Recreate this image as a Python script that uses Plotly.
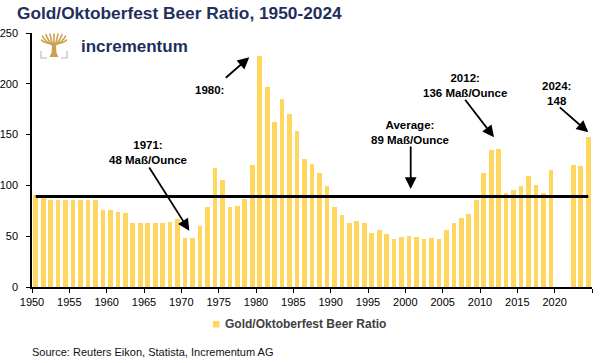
import base64
import plotly.graph_objects as go

# ---------------- data ----------------
years = list(range(1950, 2025))
ratio = [91, 91, 86, 86, 86, 86, 86, 86, 86, 76,
         76, 74, 73, 63, 63, 63, 63, 63, 64, 67,
         48, 48, 60, 79, 117, 105, 79, 80, 87, 120,
         227, 197, 162, 185, 170, 154, 126, 121, 112, 99,
         79, 71, 63, 65, 63, 53, 56, 52, 47, 49,
         50, 49, 47, 48, 47, 56, 63, 68, 72, 86,
         112, 135, 136, 93, 95, 99, 109, 100, 93, 115,
         None, None, 120, 119, 148]
average = 89
tick_years = [1950, 1955, 1960, 1965, 1970, 1975, 1980, 1985, 1990,
              1995, 2000, 2005, 2010, 2015, 2020, 2025]
tick_text = [str(y) for y in tick_years[:-1]] + [""]
series_name = "Gold/Oktoberfest Beer Ratio"

# ---------------- layout geometry ----------------
W, H = 600, 363
L, R, T, B = 32, 8, 33, 76
PW, PH = W - L - R, H - T - B

def pxx(px):
    return (px - L) / PW

def pxy(py):
    return (H - B - py) / PH

BAR = "#FFD75F"
NAVY = "#1E2F5E"

fig = go.Figure()
fig.add_trace(go.Bar(
    x=[y + 0.5 for y in years], y=ratio, width=0.62,
    marker=dict(color=BAR, line=dict(width=0)), name=series_name,
    showlegend=False,
))
fig.add_trace(go.Scatter(
    x=[years[0] + 0.5, years[-1] + 0.5], y=[average, average],
    mode="lines", line=dict(color="black", width=3), showlegend=False,
))

ann = []
font_b = dict(family="Liberation Sans, Arial", size=11.5, color="black")

def text(px, py, t, **kw):
    d = dict(xref="paper", yref="paper", x=pxx(px), y=pxy(py), text=t,
             showarrow=False, xanchor="center", yanchor="middle",
             font=font_b, align="center")
    d.update(kw)
    ann.append(d)

def arrow(sx, sy, tx, ty):
    ann.append(dict(xref="paper", yref="paper", x=pxx(tx), y=pxy(ty),
                    ax=sx - tx, ay=sy - ty, axref="pixel", ayref="pixel",
                    text="", showarrow=True, arrowhead=2, arrowsize=1.3,
                    arrowwidth=1.8, arrowcolor="black", standoff=0,
                    startstandoff=0))

text(209.5, 90, "<b>1980:</b>")
arrow(224.3, 79, 249.3, 57.3)
text(147.5, 152, "<b>1971:<br>48 Maß/Ounce</b>")
arrow(148.3, 166, 189.3, 230.7)
text(410, 132, "<b>Average:<br>89 Maß/Ounce</b>")
arrow(410.7, 145, 410.7, 189)
text(465, 85, "<b>2012:<br>136 Maß/Ounce</b>")
arrow(464, 98.3, 494, 137.3)
text(556.7, 93.7, "<b>2024:<br>148</b>")
arrow(558.3, 106, 588.3, 132.3)

# logo text
text(79, 46.5, "<b>incrementum</b>", xanchor="left",
     font=dict(family="Liberation Sans, Arial", size=17, color=NAVY))
# legend text
text(222.5, 324, "<b>" + series_name + "</b>", xanchor="left",
     font=dict(family="Liberation Sans, Arial", size=12, color="#404040"))
# source
text(29.5, 351.7, "Source: Reuters Eikon, Statista, Incrementum AG", xanchor="left",
     font=dict(family="Liberation Sans, Arial", size=11, color="#111111"))

shapes = [dict(type="rect", xref="paper", yref="paper",
               x0=pxx(213), x1=pxx(219.5), y0=pxy(327.5), y1=pxy(321),
               fillcolor=BAR, line=dict(width=0))]

# logo icon (tree) as inline svg
svg = """<svg xmlns='http://www.w3.org/2000/svg' width='28' height='26' viewBox='0 0 28 26'>
<g stroke='#C9A24B' stroke-width='1.6' fill='none' stroke-linecap='round'>
<path d='M14,14 L14,1'/>
<path d='M14,14 Q11,8 10,1'/><path d='M14,14 Q17,8 18,1'/>
<path d='M13.5,13 Q8,8 6,1.5'/><path d='M14.5,13 Q20,8 22,1.5'/>
<path d='M13,12 Q5,9 2.5,3'/><path d='M15,12 Q23,9 25.5,3'/>
<path d='M12.5,11 Q4,10 1.5,7'/><path d='M15.5,11 Q24,10 26.5,7'/>
</g>
<path d='M12,13 L16,13 L16.5,20 L18.5,24 L9.5,24 L11.5,20 Z' fill='#C9A24B'/>
<path d='M1,18 V25 H7 M27,18 V25 H21' stroke='#CFCFCF' stroke-width='1.6' fill='none'/>
</svg>"""
src = "data:image/svg+xml;base64," + base64.b64encode(svg.encode()).decode()
images = [dict(source=src, xref="paper", yref="paper", x=pxx(40), y=pxy(33),
               sizex=28 / PW, sizey=26 / PH, xanchor="left", yanchor="top",
               sizing="stretch", layer="above")]

fig.update_layout(
    width=W, height=H, margin=dict(l=L, r=R, t=T, b=B, pad=0, autoexpand=False),
    paper_bgcolor="white", plot_bgcolor="white",
    font=dict(family="Liberation Sans, Arial", size=11, color="black"),
    title=dict(text="<b>Gold/Oktoberfest Beer Ratio, 1950-2024</b>",
               xref="container", yref="container", x=17 / W, xanchor="left",
               y=1 - 12.5 / H, yanchor="middle",
               font=dict(family="Liberation Sans, Arial", size=17.3, color=NAVY)),
    bargap=0, showlegend=False,
    annotations=ann, shapes=shapes, images=images,
    xaxis=dict(range=[1950, 2025], tickmode="array", tickvals=tick_years,
               ticktext=tick_text, showgrid=False, zeroline=False,
               showline=True, linecolor="black", linewidth=1.5,
               ticks="outside", ticklen=4, tickwidth=1.2, tickcolor="black",
               tickfont=dict(size=11), fixedrange=True, automargin=False),
    yaxis=dict(range=[0, 250], tickvals=[0, 50, 100, 150, 200, 250],
               showgrid=False, zeroline=False, showline=True,
               linecolor="black", linewidth=1.5, ticks="outside", ticklen=4,
               tickwidth=1.2, tickcolor="black", tickfont=dict(size=11),
               ticklabelstandoff=6, fixedrange=True, automargin=False),
)

fig.write_html("out.html", config={"displayModeBar": False},
               post_script="document.body.style.margin='0';document.body.style.overflow='hidden';")
